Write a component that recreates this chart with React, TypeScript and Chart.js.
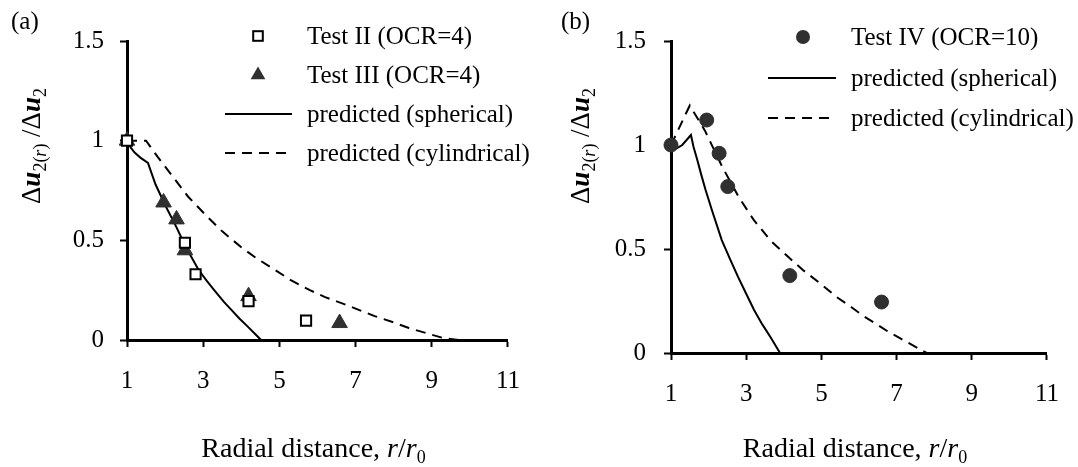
import React, { useEffect, useRef } from 'react';
import { Chart, registerables } from 'chart.js';

Chart.register(...registerables);

const SERIF = '"Liberation Serif", "Times New Roman", serif';

// Axis ticks (shared)
const xTicks = [1, 3, 5, 7, 9, 11];
const xTickLabels = ['1', '3', '5', '7', '9', '11'];
const yTicks = [0, 0.5, 1, 1.5];
const yTickLabels = ['0', '0.5', '1', '1.5'];

// Panel (a)
const aLabels = ['Test II (OCR=4)', 'Test III (OCR=4)', 'predicted (spherical)', 'predicted (cylindrical)'];
const aTestIIx = [1, 2.52, 2.8, 4.19, 5.7];
const aTestIIy = [1, 0.488, 0.33, 0.195, 0.097];
const aTestIIIx = [1, 1.96, 2.3, 2.52, 4.19, 6.58];
const aTestIIIy = [1, 0.69, 0.605, 0.45, 0.22, 0.085];
const aSphX = [1, 1.1, 1.2, 1.35, 1.55, 1.75, 2.02, 2.3, 2.54, 2.88, 3.1, 3.31, 3.55, 3.74, 3.95, 4.17, 4.35, 4.52];
const aSphY = [1, 0.965, 0.94, 0.915, 0.888, 0.78, 0.67, 0.565, 0.468, 0.351, 0.295, 0.245, 0.19, 0.151, 0.108, 0.067, 0.033, 0];
const aCylX = [1, 1.5, 1.8, 2.2, 2.6, 3.1, 3.5, 4.0, 4.4, 4.9, 5.3, 5.8, 6.2, 6.7, 7.1, 7.5, 8.0, 8.4, 8.9, 9.3, 9.7];
const aCylY = [1, 1.0, 0.92, 0.82, 0.72, 0.62, 0.545, 0.465, 0.41, 0.35, 0.3, 0.25, 0.215, 0.18, 0.15, 0.12, 0.088, 0.06, 0.032, 0.01, 0];

// Panel (b)
const bLabels = ['Test IV (OCR=10)', 'predicted (spherical)', 'predicted (cylindrical)'];
const bTestIVx = [1, 1.95, 2.28, 2.51, 4.16, 6.6];
const bTestIVy = [1, 1.12, 0.96, 0.8, 0.372, 0.245];
const bSphX = [1, 1.15, 1.3, 1.53, 1.6, 1.7, 1.8, 1.92, 2.1, 2.35, 2.55, 2.78, 3.0, 3.21, 3.42, 3.64, 3.9];
const bSphY = [1, 0.984, 1.0, 1.048, 0.99, 0.928, 0.86, 0.784, 0.68, 0.543, 0.46, 0.367, 0.285, 0.207, 0.14, 0.078, 0];
const bCylX = [1, 1.5, 1.9, 2.35, 2.8, 3.2, 3.65, 4.1, 4.5, 5.0, 5.4, 5.8, 6.1, 6.5, 6.8, 7.1, 7.4, 7.8];
const bCylY = [1, 1.19, 1.07, 0.9, 0.75, 0.64, 0.54, 0.465, 0.4, 0.33, 0.27, 0.22, 0.18, 0.135, 0.1, 0.07, 0.04, 0];

const pts = (xs: number[], ys: number[]) => xs.map((x, i) => ({ x, y: ys[i] }));

const MARK = '#303030';

function rectSet(label: string, xs: number[], ys: number[]) {
  return {
    label, data: pts(xs, ys), showLine: false, pointStyle: 'rect', pointRadius: 7.2,
    backgroundColor: '#fff', borderColor: '#000', pointBorderWidth: 2, borderWidth: 2, clip: false,
  };
}
function triSet(label: string, xs: number[], ys: number[]) {
  return {
    label, data: pts(xs, ys), showLine: false, pointStyle: 'triangle', pointRadius: 9,
    backgroundColor: MARK, borderColor: MARK, borderWidth: 1, clip: false,
  };
}
function circSet(label: string, xs: number[], ys: number[]) {
  return {
    label, data: pts(xs, ys), showLine: false, pointStyle: 'circle', pointRadius: 7,
    backgroundColor: MARK, borderColor: MARK, borderWidth: 1, clip: false,
  };
}
function lineSet(label: string, xs: number[], ys: number[], dash: number[]) {
  return {
    label, data: pts(xs, ys), showLine: true, pointRadius: 0, borderColor: '#000',
    borderWidth: 2, borderDash: dash, tension: 0, fill: false, clip: false,
  };
}

type Seg = { t: string; font: string; dy?: number };

function drawRich(ctx: CanvasRenderingContext2D, segs: Seg[], x: number, y: number) {
  let total = 0;
  for (const s of segs) { ctx.font = s.font; total += ctx.measureText(s.t).width; }
  let cx = x - total / 2;
  for (const s of segs) {
    ctx.font = s.font;
    ctx.fillText(s.t, cx, y + (s.dy || 0));
    cx += ctx.measureText(s.t).width;
  }
}

const F = (size: number, style = '') => `${style} ${size}px ${SERIF}`.trim();

function makeConfig(p: any) {
  const overlay = {
    id: 'overlay',
    afterDraw(chart: any) {
      const ctx: CanvasRenderingContext2D = chart.ctx;
      const ca = chart.chartArea;
      ctx.save();
      ctx.fillStyle = '#000';
      ctx.strokeStyle = '#000';
      ctx.textAlign = 'left';
      ctx.textBaseline = 'alphabetic';
      // panel label
      ctx.font = F(25);
      ctx.fillText(p.label, p.labelX, 29);
      // y title
      ctx.save();
      ctx.translate(p.yTitleX, 146);
      ctx.rotate(-Math.PI / 2);
      drawRich(ctx, [
        { t: 'Δ', font: F(27) },
        { t: 'u', font: F(27, 'italic bold') },
        { t: '2', font: F(18), dy: 6 },
        { t: '(', font: F(18), dy: 6 },
        { t: 'r', font: F(18, 'italic'), dy: 6 },
        { t: ')', font: F(18), dy: 6 },
        { t: ' /', font: F(27) },
        { t: 'Δ', font: F(27) },
        { t: 'u', font: F(27, 'italic bold') },
        { t: '2', font: F(18), dy: 6 },
      ], 0, 0);
      ctx.restore();
      // x title
      drawRich(ctx, [
        { t: 'Radial distance, ', font: F(28) },
        { t: 'r', font: F(28, 'italic') },
        { t: '/', font: F(28) },
        { t: 'r', font: F(28, 'italic') },
        { t: '0', font: F(18), dy: 6 },
      ], (ca.left + ca.right) / 2 - 4, 457);
      // legend
      const L = p.legend;
      chart.data.datasets.forEach((ds: any, i: number) => {
        const cy = L.rows[i];
        ctx.save();
        if (ds.showLine) {
          ctx.lineWidth = 2;
          ctx.setLineDash(ds.borderDash || []);
          ctx.beginPath();
          ctx.moveTo(L.lineX0, cy);
          ctx.lineTo(L.lineX1, cy);
          ctx.stroke();
        } else if (ds.pointStyle === 'rect') {
          ctx.fillStyle = '#fff';
          ctx.lineWidth = 2;
          const s = 4.8;
          ctx.fillRect(L.markerX - s, cy - s, 2 * s, 2 * s);
          ctx.strokeRect(L.markerX - s, cy - s, 2 * s, 2 * s);
        } else if (ds.pointStyle === 'triangle') {
          const r = 8.5;
          ctx.fillStyle = MARK;
          ctx.beginPath();
          ctx.moveTo(L.markerX, cy - r);
          ctx.lineTo(L.markerX + r * Math.sin(2 * Math.PI / 3), cy - r * Math.cos(2 * Math.PI / 3));
          ctx.lineTo(L.markerX + r * Math.sin(4 * Math.PI / 3), cy - r * Math.cos(4 * Math.PI / 3));
          ctx.closePath();
          ctx.fill();
        } else {
          ctx.fillStyle = MARK;
          ctx.beginPath();
          ctx.arc(L.markerX, cy, 7, 0, Math.PI * 2);
          ctx.fill();
        }
        ctx.restore();
        ctx.font = F(25);
        ctx.fillStyle = '#000';
        ctx.fillText(ds.label, L.textX, cy + 8);
      });
      ctx.restore();
    },
  };

  const grid = {
    drawOnChartArea: false, drawTicks: true, tickLength: 7, tickWidth: 2,
    tickColor: '#000', color: '#000',
  };
  const border = { display: true, color: '#000', width: 3 };
  const tickFont = { family: SERIF, size: 25 };

  return {
    type: 'scatter',
    data: { datasets: p.datasets },
    options: {
      animation: false,
      responsive: false,
      events: [],
      layout: { padding: { left: 0, top: p.padTop, right: p.padRight, bottom: 0 } },
      plugins: { legend: { display: false }, tooltip: { enabled: false } },
      scales: {
        x: {
          type: 'linear', min: 1, max: 11,
          afterBuildTicks: (s: any) => { s.ticks = xTicks.map((v) => ({ value: v })); },
          afterFit: (s: any) => { s.height = 467 - p.chartBottom; },
          grid, border,
          ticks: {
            color: '#000', font: tickFont, padding: 19, maxRotation: 0, autoSkip: false,
            callback: (_v: any, i: number) => xTickLabels[i],
          },
        },
        y: {
          type: 'linear', min: 0, max: 1.5,
          afterBuildTicks: (s: any) => { s.ticks = yTicks.map((v) => ({ value: v })); },
          afterFit: (s: any) => { s.width = p.chartLeft; },
          grid, border,
          ticks: {
            color: '#000', font: tickFont, padding: p.yPad,
            callback: (_v: any, i: number) => yTickLabels[i],
          },
        },
      },
    },
    plugins: [overlay],
  } as any;
}

const panelA = {
  label: '(a)', labelX: 11, yTitleX: 40, chartLeft: 127, chartBottom: 340, padTop: 41, padRight: 24, yPad: 16,
  legend: { markerX: 258, lineX0: 225, lineX1: 292, textX: 307, rows: [36, 75, 114, 153] },
  datasets: [
    rectSet(aLabels[0], aTestIIx, aTestIIy),
    triSet(aLabels[1], aTestIIIx, aTestIIIy),
    lineSet(aLabels[2], aSphX, aSphY, []),
    lineSet(aLabels[3], aCylX, aCylY, [10, 7]),
  ],
};

const panelB = {
  label: '(b)', labelX: 22, yTitleX: 50, chartLeft: 132, chartBottom: 353, padTop: 41, padRight: 20, yPad: 18,
  legend: { markerX: 264, lineX0: 229, lineX1: 297, textX: 312, rows: [37, 78, 118] },
  datasets: [
    circSet(bLabels[0], bTestIVx, bTestIVy),
    lineSet(bLabels[1], bSphX, bSphY, []),
    lineSet(bLabels[2], bCylX, bCylY, [10, 7]),
  ],
};

export default function App() {
  const refA = useRef<HTMLCanvasElement>(null);
  const refB = useRef<HTMLCanvasElement>(null);
  useEffect(() => {
    const a = new Chart(refA.current as HTMLCanvasElement, makeConfig(panelA));
    const b = new Chart(refB.current as HTMLCanvasElement, makeConfig(panelB));
    return () => { a.destroy(); b.destroy(); };
  }, []);
  return (
    <div style={{ position: 'fixed', left: 0, top: 0, width: 1078, height: 467, background: '#fff' }}>
      <canvas ref={refA} width={539} height={467} style={{ position: 'absolute', left: 0, top: 0, width: 539, height: 467 }} />
      <canvas ref={refB} width={539} height={467} style={{ position: 'absolute', left: 539, top: 0, width: 539, height: 467 }} />
    </div>
  );
}
